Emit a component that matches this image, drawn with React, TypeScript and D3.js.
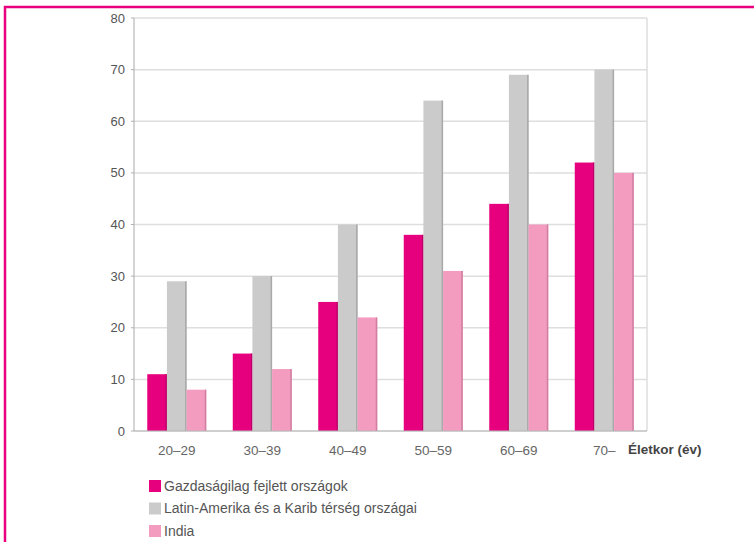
import React from "react";
import * as d3 from "d3";

const categories = ["20–29", "30–39", "40–49", "50–59", "60–69", "70–"];
const seriesNames = [
  "Gazdaságilag fejlett országok",
  "Latin-Amerika és a Karib térség országai",
  "India",
];
const developed = [11, 15, 25, 38, 44, 52];
const latinAmerica = [29, 30, 40, 64, 69, 70];
const india = [8, 12, 22, 31, 40, 50];
const yTicks = [0, 10, 20, 30, 40, 50, 60, 70, 80];
const colors = ["#e6007e", "#cbcbcb", "#f39cc0"];
const edgeColors = ["#c0006a", "#a9a9a9", "#d07fa2"];

const W = 754;
const H = 542;
const left = 134;
const right = 647;
const top = 18;
const bottom = 431;

export default function App() {
  const series = [developed, latinAmerica, india];
  const x0 = d3.scaleBand<string>().domain(categories).range([left, right]).paddingInner(0.31).paddingOuter(0.155);
  const x1 = d3.scaleBand<number>().domain([0, 1, 2]).range([0, x0.bandwidth()]);
  const y = d3.scaleLinear().domain([0, 80]).range([bottom, top]);
  const font = "Liberation Sans, Arial, sans-serif";

  return (
    <svg width={W} height={H} style={{ position: "fixed", left: 0, top: 0, background: "#fff" }}>
      <rect x={5} y={7} width={W + 10} height={H + 10} fill="none" stroke="#e8007f" strokeWidth={2.5} />
      {yTicks.map((t) => (
        <g key={t}>
          <line x1={left} x2={right} y1={y(t)} y2={y(t)} stroke="#dedede" strokeWidth={1.5} />
          <line x1={left - 3} x2={left} y1={y(t)} y2={y(t)} stroke="#b0b0b0" strokeWidth={1} />
          <text x={left - 9} y={y(t)} dy="0.35em" textAnchor="end" fontFamily={font} fontSize={13} fill="#555">
            {t}
          </text>
        </g>
      ))}
      <line x1={right} x2={right} y1={top} y2={bottom} stroke="#dedede" strokeWidth={1.5} />
      {categories.map((c, i) => (
        <g key={c}>
          {series.map((s, j) => {
            const bx = (x0(c) ?? 0) + (x1(j) ?? 0);
            const bw = x1.bandwidth();
            return (
              <g key={j}>
                <rect x={bx} y={y(s[i])} width={bw} height={y(0) - y(s[i])} fill={colors[j]} />
                <rect x={bx + bw - 1.5} y={y(s[i])} width={1.5} height={y(0) - y(s[i])} fill={edgeColors[j]} />
              </g>
            );
          })}
          <text
            x={(x0(c) ?? 0) + x0.bandwidth() / 2}
            y={450}
            dy="0.35em"
            textAnchor="middle"
            fontFamily={font}
            fontSize={13.5}
            fill="#666"
          >
            {c}
          </text>
        </g>
      ))}
      <line x1={left} x2={left} y1={top} y2={bottom} stroke="#b8b8b8" strokeWidth={1.2} />
      <line x1={left} x2={right} y1={bottom} y2={bottom} stroke="#b8b8b8" strokeWidth={1.2} />
      <text x={628} y={449} dy="0.35em" fontFamily={font} fontSize={13.5} fontWeight="bold" fill="#444">
        Életkor (év)
      </text>
      {seriesNames.map((n, j) => (
        <g key={n}>
          <rect x={149} y={480 + j * 22.5} width={12} height={12} fill={colors[j]} />
          <text x={164} y={486 + j * 22.5} dy="0.35em" fontFamily={font} fontSize={14} fill="#555">
            {n}
          </text>
        </g>
      ))}
    </svg>
  );
}
